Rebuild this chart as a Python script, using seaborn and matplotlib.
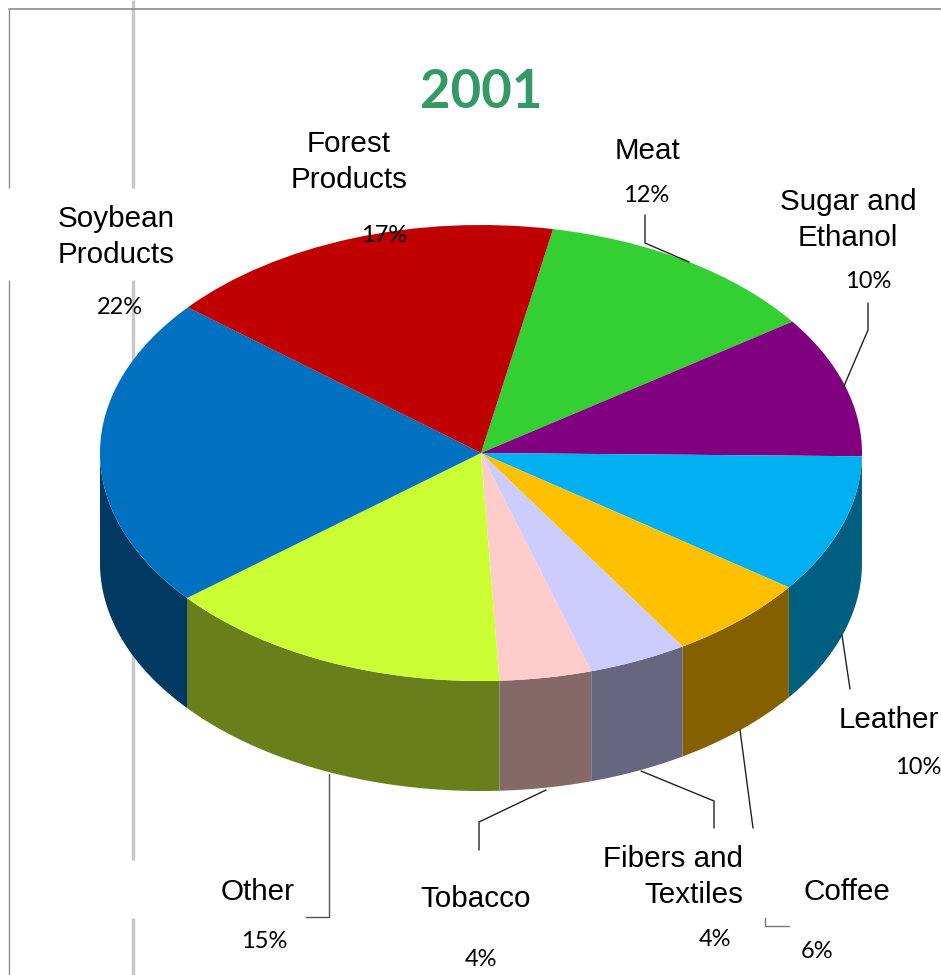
import numpy as np
import matplotlib
matplotlib.use("Agg")
import matplotlib.pyplot as plt
import seaborn as sns

# Data, clockwise starting at the Meat slice (slice sizes,
# labels print them rounded to whole percents)
categories = ["Meat", "Sugar and\nEthanol", "Leather", "Coffee", "Fibers and\nTextiles",
              "Tobacco", "Other", "Soybean\nProducts", "Forest\nProducts"]
values = [12.2, 10.0, 9.8, 6.1, 4.2, 3.9, 14.8, 22.0, 17.0]
top_colors = ["#33cf33", "#800080", "#00b0f0", "#ffc000", "#ccccff",
              "#ffcccc", "#ccff33", "#0070c0", "#c00000"]
side_colors = ["#1f7f1f", "#4d004d", "#005f80", "#856000", "#66667f",
               "#856868", "#687f1c", "#003a63", "#730000"]
title = "2001"

sns.set_theme(style="white")
plt.rcParams["font.family"] = ["Liberation Sans", "DejaVu Sans"]

W, H = 941, 975
CX, CY, RX, RY, DEPTH = 481, 453, 381, 228, 110
START = 79.1

fig = plt.figure(figsize=(W / 100, H / 100), dpi=100, facecolor="white")
ax = fig.add_axes([0, 0, 1, 1])
over = fig.add_axes([0, 0, 1, 1])
over.set_xlim(0, W)
over.set_ylim(H, 0)
over.axis("off")
over.patch.set_alpha(0)

# Page furniture behind the chart
ax.set_zorder(2)
over.set_zorder(3)
under = fig.add_axes([0, 0, 1, 1], zorder=1)
under.set_xlim(0, W)
under.set_ylim(H, 0)
under.axis("off")
for y0, y1 in [(0, 188), (280, 860), (918, 975)]:
    under.plot([133, 133], [y0, y1], color="#c8c8c8", lw=2.4, solid_capstyle="butt")
for y0, y1 in [(9, 188), (280, 975)]:
    under.plot([9.5, 9.5], [y0, y1], color="#8c8c8c", lw=1, solid_capstyle="butt")
under.plot([9, W], [9, 9], color="#8c8c8c", lw=1.2)

# Top surface
ax.pie(values, colors=top_colors, startangle=START, counterclock=False, radius=1,
       wedgeprops={"linewidth": 0})
ax.set_aspect("auto")
ax.set_xlim(-CX / RX, (W - CX) / RX)
ax.set_ylim((CY - H) / RY, CY / RY)
ax.patch.set_alpha(0)
ax.set_frame_on(False)

# Extruded front wall
depth = DEPTH / RY
edges = START - np.cumsum([0] + values) * 3.6
for a0, a1, color in zip(edges[:-1], edges[1:], side_colors):
    th = np.radians(np.linspace(a0, a1, 240))
    th = th[np.sin(th) <= 0.002]
    if len(th) > 1:
        xs = np.cos(th)
        ys = np.sin(th)
        ax.fill(np.r_[xs, xs[::-1]], np.r_[ys, ys[::-1] - depth],
                color=color, lw=0, zorder=-1)

# Title
over.text(481, 92, title, color="#339966", fontsize=38, fontweight="bold",
          family="Lato", ha="center", va="center")

# Category labels (centre x, centre y, alignment)
label_pos = [(648, 151, "center"), (848, 220, "center"), (889, 720, "center"),
             (847, 892, "center"), (743, 877, "right"), (476, 899, "center"),
             (258, 892, "center"), (116, 237, "center"), (349, 162, "center")]
pct_pos = [(646, 196), (868, 281), (918, 768), (817, 951), (715, 939),
           (481, 960), (264, 941), (120, 308), (384, 236)]
for name, v, (x, y, ha), (px, py) in zip(categories, values, label_pos, pct_pos):
    over.text(x, y, name, fontsize=21.3, color="black", ha=ha, va="center",
              multialignment=ha, linespacing=1.33)
    over.text(px, py, f"{v:.0f}%", fontsize=17, color="black", family="Lato",
              ha="center", va="center")

# Leader lines
leaders = [
    ([645, 645, 689], [215, 243, 262], "#222222"),
    ([868, 868, 844], [303, 330, 386], "#222222"),
    ([842, 850], [635, 689], "#222222"),
    ([740, 753], [730, 828], "#222222"),
    ([641, 714, 714], [771, 801, 828], "#222222"),
    ([546, 479, 479], [790, 822, 850], "#222222"),
    ([329, 329, 306], [774, 917, 917], "#555555"),
    ([765, 765, 789], [918, 926, 926], "#777777"),
]
for xs, ys, c in leaders:
    over.plot(xs, ys, color=c, lw=1, solid_joinstyle="miter")

fig.savefig("out.png", dpi=100, facecolor="white")
